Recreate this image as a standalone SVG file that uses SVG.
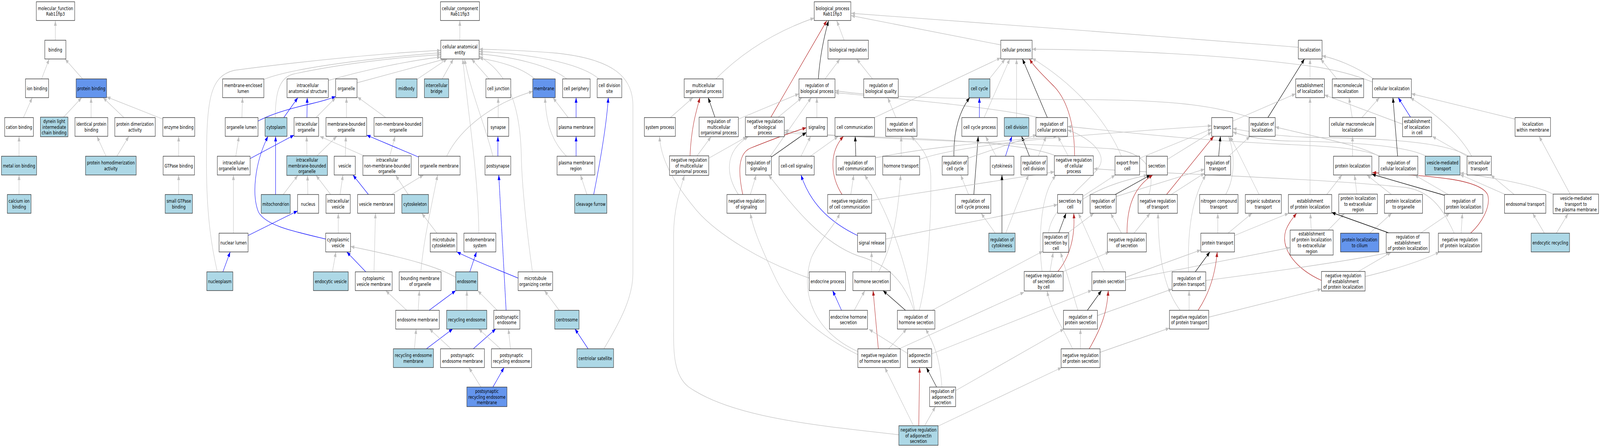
<svg xmlns="http://www.w3.org/2000/svg" width="5463" height="1147" viewBox="0 0 5463 1147" preserveAspectRatio="none" style="width:100vw;height:100vh;display:block">
<style>
rect.w{fill:#fff;stroke:#2a2a2a;stroke-width:1.3}
rect.lb{fill:#add8e6;stroke:#2a2a2a;stroke-width:1.3}
rect.bl{fill:#6495ed;stroke:#2a2a2a;stroke-width:1.3}
text{font-family:"DejaVu Sans","Liberation Sans",sans-serif;font-size:12.6px;text-anchor:middle;fill:#000}
#edges path{fill:none;stroke-width:1.3}
#edges .g{stroke:#c0c0c0;marker-end:url(#ag)}
#edges .b{stroke:#0000ff;marker-end:url(#ab)}
#edges .k{stroke:#000;marker-end:url(#ak)}
#edges .r{stroke:#b22222;marker-end:url(#ar)}
</style>
<defs>
<marker id="ag" viewBox="0 0 13 9.5" refX="13" refY="4.75" markerWidth="13" markerHeight="9.5" markerUnits="userSpaceOnUse" orient="auto"><path d="M0,0 L13,4.75 L0,9.5 z" fill="#c0c0c0"/></marker>
<marker id="ab" viewBox="0 0 13 9.5" refX="13" refY="4.75" markerWidth="13" markerHeight="9.5" markerUnits="userSpaceOnUse" orient="auto"><path d="M0,0 L13,4.75 L0,9.5 z" fill="#0000ff"/></marker>
<marker id="ak" viewBox="0 0 13 9.5" refX="13" refY="4.75" markerWidth="13" markerHeight="9.5" markerUnits="userSpaceOnUse" orient="auto"><path d="M0,0 L13,4.75 L0,9.5 z" fill="#000"/></marker>
<marker id="ar" viewBox="0 0 13 9.5" refX="13" refY="4.75" markerWidth="13" markerHeight="9.5" markerUnits="userSpaceOnUse" orient="auto"><path d="M0,0 L13,4.75 L0,9.5 z" fill="#b22222"/></marker>
</defs>
<rect x="0" y="0" width="5463" height="1147" fill="#fff"/>
<g id="edges">
<path class="g" d="M189,103 L189,53"/>
<path class="g" d="M142,202 L168,151"/>
<path class="g" d="M282,202 L222,151"/>
<path class="g" d="M80,301 L110,250"/>
<path class="g" d="M217,300 L279,250"/>
<path class="g" d="M311,301 L311,250"/>
<path class="g" d="M423,301 L352,250"/>
<path class="g" d="M556,305 L364,248"/>
<path class="g" d="M65,400 L65,349"/>
<path class="g" d="M362,400 L331,349"/>
<path class="g" d="M399,400 L440,349"/>
<path class="g" d="M610,400 L610,349"/>
<path class="g" d="M65,498 L65,448"/>
<path class="g" d="M610,498 L610,448"/>
<path class="g" d="M1570,103 L1570,53"/>
<path class="g" d="M898,204 C1000,172 1300,147 1505,135"/>
<path class="g" d="M742,696 C725,640 705,560 705,420 C705,250 718,195 800,180 C1000,160 1300,136 1505,129"/>
<path class="g" d="M940,301 C940,245 950,200 1000,190 C1150,165 1350,147 1505,140"/>
<path class="g" d="M1121,206 C1250,178 1400,155 1505,146"/>
<path class="g" d="M1219,212 L1520,151"/>
<path class="g" d="M1424,203 L1527,151"/>
<path class="g" d="M1510,202 L1548,151"/>
<path class="g" d="M1670,202 L1610,151"/>
<path class="g" d="M1635,597 C1633,450 1600,300 1580,151"/>
<path class="g" d="M1683,400 C1660,330 1605,230 1586,151"/>
<path class="g" d="M1818,696 C1800,600 1782,480 1780,400 C1776,250 1720,180 1636,144"/>
<path class="g" d="M1826,202 C1780,172 1700,156 1636,149"/>
<path class="g" d="M1935,202 C1880,168 1750,145 1636,138"/>
<path class="g" d="M2045,202 C1980,160 1800,137 1636,132"/>
<path class="g" d="M2062,893 C2120,820 2161,760 2161,700 L2161,270 C2161,200 2100,152 1900,136 C1800,130 1700,127 1636,126"/>
<path class="g" d="M1525,400 C1570,330 1680,265 1819,234"/>
<path class="b" d="M969,301 L1017,250"/>
<path class="b" d="M1048,301 L1049,250"/>
<path class="b" d="M881,310 C930,290 1000,276 1060,266 C1100,259 1130,252 1146,247"/>
<path class="g" d="M1079,301 L1146,250"/>
<path class="g" d="M1183,301 L1183,250"/>
<path class="g" d="M1317,301 L1220,248"/>
<path class="b" d="M854,406 L1004,346"/>
<path class="b" d="M1112,612 C1000,592 905,577 882,542 C860,500 868,420 915,349"/>
<path class="b" d="M941,498 L941,349"/>
<path class="b" d="M847,603 L1016,540"/>
<path class="g" d="M1048,399 L1047,349"/>
<path class="g" d="M1082,399 L1150,349"/>
<path class="g" d="M1179,400 L1181,349"/>
<path class="g" d="M1243,399 L1092,349"/>
<path class="g" d="M1331,399 L1349,349"/>
<path class="b" d="M1429,402 L1252,346"/>
<path class="g" d="M1701,301 L1701,250"/>
<path class="b" d="M1700,400 L1700,349"/>
<path class="g" d="M967,498 L1017,449"/>
<path class="g" d="M1051,498 L1050,449"/>
<path class="g" d="M1129,498 L1079,449"/>
<path class="g" d="M1161,498 L1171,448"/>
<path class="b" d="M1258,498 L1205,448"/>
<path class="g" d="M1337,498 L1446,448"/>
<path class="g" d="M1394,498 L1351,449"/>
<path class="g" d="M1437,696 C1445,620 1470,540 1494,448"/>
<path class="g" d="M1492,597 L1440,546"/>
<path class="g" d="M1155,597 L1155,546"/>
<path class="g" d="M1277,696 L1282,546"/>
<path class="b" d="M1728,794 L1703,448"/>
<path class="g" d="M1135,696 L1147,645"/>
<path class="b" d="M1249,696 L1184,645"/>
<path class="g" d="M1556,710 C1500,685 1400,662 1197,631"/>
<path class="b" d="M1604,696 L1627,645"/>
<path class="b" d="M1769,712 C1700,690 1620,668 1560,645"/>
<path class="g" d="M1388,794 L1317,744"/>
<path class="g" d="M1428,794 L1432,744"/>
<path class="b" d="M1466,794 L1556,744"/>
<path class="g" d="M1594,794 L1594,744"/>
<path class="g" d="M1697,794 L1631,744"/>
<path class="g" d="M1415,893 L1421,842"/>
<path class="b" d="M1456,893 L1546,842"/>
<path class="g" d="M1540,893 L1466,842"/>
<path class="b" d="M1616,893 L1693,842"/>
<path class="g" d="M1709,893 L1634,842"/>
<path class="g" d="M1743,893 L1736,842"/>
<path class="g" d="M1642,991 L1601,941"/>
<path class="b" d="M1683,991 L1721,941"/>
<path class="g" d="M1940,301 L1888,250"/>
<path class="b" d="M1967,301 L1967,250"/>
<path class="g" d="M1934,400 C1895,370 1865,330 1861,250"/>
<path class="b" d="M1967,400 L1967,349"/>
<path class="g" d="M2004,498 L1982,448"/>
<path class="b" d="M2027,498 C2045,430 2070,330 2077,250"/>
<path class="g" d="M1909,794 L1859,744"/>
<path class="b" d="M2008,893 L1963,842"/>
<path class="b" d="M761,696 L786,645"/>
<path class="g" d="M797,597 L797,448"/>
<path class="g" d="M805,400 L816,349"/>
<path class="g" d="M826,301 L828,250"/>
<path class="g" d="M2882,103 L2857,53"/>
<path class="k" d="M2794,202 C2800,140 2815,90 2829,53"/>
<path class="r" d="M2632,300 L2823,53"/>
<path class="g" d="M2444,202 C2540,130 2650,80 2780,46"/>
<path class="g" d="M3417,115 L2906,40"/>
<path class="g" d="M4433,121 C4000,95 3300,55 2906,34"/>
<path class="g" d="M2817,202 L2868,151"/>
<path class="g" d="M2979,202 L2925,151"/>
<path class="g" d="M3378,202 L3432,151"/>
<path class="g" d="M2986,301 L3417,148"/>
<path class="g" d="M3360,301 L3448,151"/>
<path class="g" d="M3471,301 L3471,151"/>
<path class="k" d="M3576,301 L3491,151"/>
<path class="r" d="M3669,399 C3669,330 3650,262 3600,222 C3560,192 3530,170 3515,151"/>
<path class="g" d="M3829,400 C3790,330 3700,230 3524,149"/>
<path class="g" d="M4686,210 C4620,190 4560,180 4500,172 C4200,140 3800,127 3524,126"/>
<path class="g" d="M4565,202 L4509,151"/>
<path class="g" d="M4690,202 C4630,170 4560,150 4514,143"/>
<path class="g" d="M4473,202 L4473,151"/>
<path class="k" d="M4329,301 L4454,151"/>
<path class="k" d="M2441,300 L2418,250"/>
<path class="g" d="M2289,301 L2366,250"/>
<path class="r" d="M2356,399 C2360,330 2375,290 2390,250"/>
<path class="g" d="M2521,305 L2728,240"/>
<path class="g" d="M2657,300 L2738,250"/>
<path class="g" d="M2630,400 L2770,250"/>
<path class="g" d="M2789,301 L2789,250"/>
<path class="g" d="M3545,301 C3400,275 3100,255 2851,237"/>
<path class="g" d="M4268,301 C4150,270 4000,256 3700,255 C3300,254 3000,250 2851,232"/>
<path class="g" d="M3605,399 C3500,366 3200,356 3000,351 C2850,348 2750,341 2678,334"/>
<path class="g" d="M3923,498 C3945,440 3920,392 3800,381 C3500,367 3000,356 2678,340"/>
<path class="g" d="M2380,399 L2428,350"/>
<path class="g" d="M2420,405 L2550,350"/>
<path class="g" d="M2521,498 C2480,450 2470,390 2555,350"/>
<path class="g" d="M2562,498 L2582,448"/>
<path class="r" d="M2536,498 C2520,440 2520,395 2560,380 C2640,356 2700,339 2753,327"/>
<path class="k" d="M2634,402 L2753,339"/>
<path class="g" d="M2735,400 L2768,349"/>
<path class="g" d="M2767,400 L2862,349"/>
<path class="r" d="M2875,498 C2835,450 2830,390 2880,349"/>
<path class="k" d="M2922,400 L2920,349"/>
<path class="g" d="M3059,301 L3031,250"/>
<path class="g" d="M3077,400 L3077,349"/>
<path class="g" d="M3139,794 C3170,700 3180,560 3178,450 C3176,400 3140,372 3111,349"/>
<path class="k" d="M3257,400 C3255,330 3280,280 3311,250"/>
<path class="b" d="M3344,301 L3344,250"/>
<path class="k" d="M3325,498 L3340,349"/>
<path class="g" d="M3401,400 L3365,349"/>
<path class="b" d="M3433,400 L3455,349"/>
<path class="k" d="M3515,400 L3488,349"/>
<path class="g" d="M3545,400 L3572,349"/>
<path class="g" d="M3305,405 L3540,345"/>
<path class="g" d="M2989,404 C3200,372 3450,360 3610,349"/>
<path class="g" d="M3647,399 L3612,349"/>
<path class="g" d="M4712,400 C4650,380 4550,375 4400,370 C4000,356 3750,330 3645,324"/>
<path class="g" d="M4712,402 C4650,372 4500,352 4354,325"/>
<path class="g" d="M3580,596 C3590,530 3700,480 3750,430 C3790,390 3700,345 3645,333"/>
<path class="g" d="M3140,408 C3300,366 3700,345 4137,322"/>
<path class="g" d="M3891,405 L4137,330"/>
<path class="g" d="M3986,408 L4137,338"/>
<path class="r" d="M3983,498 L4144,349"/>
<path class="k" d="M4161,400 L4167,349"/>
<path class="g" d="M4185,498 C4220,450 4215,390 4195,349"/>
<path class="g" d="M4299,498 L4200,349"/>
<path class="g" d="M4870,400 C4800,372 4600,363 4400,361 C4300,359 4240,346 4209,338"/>
<path class="g" d="M5015,400 C4950,370 4800,355 4500,352 C4350,350 4260,336 4209,329"/>
<path class="g" d="M4209,310 L4424,240"/>
<path class="g" d="M4195,400 L4268,349"/>
<path class="g" d="M4789,318 L4522,243"/>
<path class="g" d="M4473,498 L4473,250"/>
<path class="g" d="M4530,498 L4582,448"/>
<path class="g" d="M4215,603 L4400,546"/>
<path class="r" d="M4512,718 C4430,690 4370,640 4390,590 C4400,570 4415,558 4427,546"/>
<path class="g" d="M4477,589 L4474,546"/>
<path class="g" d="M4617,301 L4606,250"/>
<path class="g" d="M4650,301 L4710,250"/>
<path class="k" d="M4772,400 L4756,250"/>
<path class="b" d="M4816,300 L4774,250"/>
<path class="g" d="M5025,400 C4980,340 4900,290 4815,250"/>
<path class="g" d="M5173,305 L4819,240"/>
<path class="g" d="M4618,400 L4618,349"/>
<path class="g" d="M5009,400 L4890,349"/>
<path class="g" d="M5361,497 L5255,349"/>
<path class="g" d="M4633,497 L4625,448"/>
<path class="g" d="M4751,498 L4667,448"/>
<path class="k" d="M4932,500 L4684,446"/>
<path class="r" d="M5021,597 C5060,570 5090,530 5080,500 C5060,460 4900,450 4686,442"/>
<path class="g" d="M4945,498 L4830,448"/>
<path class="g" d="M5140,498 L4985,447"/>
<path class="g" d="M5305,498 C5250,475 5100,455 4985,443"/>
<path class="g" d="M5170,498 L5090,448"/>
<path class="g" d="M3811,503 L4113,433"/>
<path class="k" d="M3808,498 L3928,448"/>
<path class="g" d="M3999,498 L4113,443"/>
<path class="g" d="M4058,696 C4055,620 4060,520 4117,448"/>
<path class="g" d="M3697,503 L3808,448"/>
<path class="g" d="M3697,510 C3780,470 3880,455 3918,448"/>
<path class="g" d="M4158,597 L4158,546"/>
<path class="g" d="M4193,597 L4275,546"/>
<path class="g" d="M4535,589 L4590,547"/>
<path class="g" d="M4677,597 L4752,546"/>
<path class="k" d="M4741,596 L4547,544"/>
<path class="g" d="M4852,596 L4950,546"/>
<path class="g" d="M4989,597 L4993,546"/>
<path class="g" d="M4965,597 C4930,540 4890,490 4800,480 C4500,456 4000,446 3734,432"/>
<path class="g" d="M5273,597 L5233,546"/>
<path class="g" d="M5314,597 L5354,547"/>
<path class="g" d="M4117,718 C4300,700 4600,670 4745,646"/>
<path class="g" d="M4638,695 L4750,646"/>
<path class="g" d="M4661,708 C4760,690 4850,670 4915,645"/>
<path class="g" d="M4127,812 L4512,740"/>
<path class="g" d="M3843,710 L4100,640"/>
<path class="g" d="M3843,717 L4405,634"/>
<path class="k" d="M4081,696 L4131,645"/>
<path class="r" d="M4091,794 C4130,750 4150,700 4156,645"/>
<path class="g" d="M4060,794 L4060,744"/>
<path class="g" d="M3872,597 L3927,546"/>
<path class="g" d="M4029,794 C3975,740 3955,660 3954,546"/>
<path class="r" d="M3848,597 C3848,530 3870,480 3936,448"/>
<path class="g" d="M3829,597 L3792,546"/>
<path class="k" d="M3615,596 L3640,546"/>
<path class="r" d="M3612,695 C3650,660 3672,610 3666,546"/>
<path class="g" d="M3771,696 L3682,546"/>
<path class="g" d="M3024,612 L3611,524"/>
<path class="g" d="M3645,597 L3735,546"/>
<path class="g" d="M3585,695 L3596,646"/>
<path class="g" d="M3625,697 L3788,645"/>
<path class="g" d="M3558,695 C3545,620 3550,500 3605,449"/>
<path class="g" d="M2976,513 L3600,440"/>
<path class="g" d="M3680,794 L3621,646"/>
<path class="k" d="M3713,794 L3761,744"/>
<path class="g" d="M3747,808 L4002,740"/>
<path class="g" d="M3689,893 L3689,842"/>
<path class="r" d="M3719,893 C3760,840 3780,800 3784,744"/>
<path class="g" d="M3756,902 L3993,840"/>
<path class="g" d="M3662,893 C3630,840 3590,800 3575,745"/>
<path class="g" d="M3263,1000 L3633,842"/>
<path class="g" d="M3203,1091 L3625,941"/>
<path class="g" d="M3181,906 L3728,743"/>
<path class="g" d="M2976,696 L2976,645"/>
<path class="g" d="M3000,696 C3040,640 3065,570 3075,448"/>
<path class="b" d="M2928,603 C2850,575 2770,530 2735,448"/>
<path class="g" d="M2763,712 C2600,670 2450,600 2380,540 C2290,460 2255,400 2252,349"/>
<path class="g" d="M3069,1113 C2800,1090 2500,1070 2350,990 C2300,960 2300,900 2300,850 L2300,600 C2300,540 2320,490 2337,449"/>
<path class="b" d="M2873,794 L2843,744"/>
<path class="g" d="M2917,794 L2953,744"/>
<path class="k" d="M3091,794 L3015,744"/>
<path class="g" d="M3120,794 C3080,700 3000,670 2930,655 C2800,620 2700,520 2624,448"/>
<path class="g" d="M3123,794 C3100,700 3050,560 2952,448"/>
<path class="g" d="M3184,794 L3561,643"/>
<path class="r" d="M2999,893 L2981,744"/>
<path class="g" d="M3034,893 L3096,842"/>
<path class="g" d="M3070,893 L3497,748"/>
<path class="g" d="M2929,908 C2800,860 2700,800 2640,700 C2590,620 2570,580 2562,546"/>
<path class="g" d="M2929,900 C2780,850 2730,750 2770,660 C2800,610 2850,580 2867,546"/>
<path class="g" d="M3099,905 L2967,843"/>
<path class="k" d="M3198,991 L3163,941"/>
<path class="g" d="M3216,991 C3210,920 3190,880 3160,842"/>
<path class="g" d="M3119,1090 L3021,941"/>
<path class="r" d="M3137,1090 L3140,941"/>
<path class="g" d="M3157,1090 L3194,1041"/>
<path class="k" d="M3421,597 L3421,448"/>
<path class="g" d="M3398,597 L3350,546"/>
<path class="g" d="M3434,597 L3512,448"/>
<path class="g" d="M3307,498 L3280,448"/>
<path class="g" d="M2905,498 L2915,448"/>
</g>
<g id="n_mf"><rect class="w" x="124" y="4.5" width="131" height="48"/><text x="189.5" y="25.7">molecular_function</text><text x="189.5" y="40.5">Rab11fip3</text></g>
<g id="n_bind"><rect class="w" x="153" y="103" width="72" height="48"/><text x="189" y="131.6">binding</text></g>
<g id="n_ionb"><rect class="w" x="87" y="202" width="79" height="48"/><text x="126.5" y="230.6">ion binding</text></g>
<g id="n_protb"><rect class="bl" x="260" y="202" width="104" height="48"/><text x="312" y="230.6">protein binding</text></g>
<g id="n_catb"><rect class="w" x="16" y="301" width="98" height="48"/><text x="65" y="329.6">cation binding</text></g>
<g id="n_dyn"><rect class="lb" x="138" y="300" width="94" height="50"/><text x="185" y="314.8">dynein light</text><text x="185" y="329.6">intermediate</text><text x="185" y="344.4">chain binding</text></g>
<g id="n_ident"><rect class="w" x="256" y="301" width="112" height="48"/><text x="312" y="322.2">identical protein</text><text x="312" y="337">binding</text></g>
<g id="n_dimer"><rect class="w" x="392" y="301" width="138" height="48"/><text x="461" y="322.2">protein dimerization</text><text x="461" y="337">activity</text></g>
<g id="n_enz"><rect class="w" x="556" y="301" width="109" height="48"/><text x="610.5" y="329.6">enzyme binding</text></g>
<g id="n_metal"><rect class="lb" x="5" y="400" width="120" height="48"/><text x="65" y="428.6">metal ion binding</text></g>
<g id="n_homod"><rect class="lb" x="292" y="400" width="173" height="48"/><text x="378.5" y="421.2">protein homodimerization</text><text x="378.5" y="436">activity</text></g>
<g id="n_gtpb"><rect class="w" x="557" y="400" width="107" height="48"/><text x="610.5" y="428.6">GTPase binding</text></g>
<g id="n_calc"><rect class="lb" x="25" y="498" width="81" height="48"/><text x="65.5" y="519.2">calcium ion</text><text x="65.5" y="534">binding</text></g>
<g id="n_sgtp"><rect class="lb" x="564" y="498" width="93" height="48"/><text x="610.5" y="519.2">small GTPase</text><text x="610.5" y="534">binding</text></g>
<g id="n_cc"><rect class="w" x="1504" y="4.5" width="133" height="48"/><text x="1570.5" y="25.7">cellular_component</text><text x="1570.5" y="40.5">Rab11fip3</text></g>
<g id="n_cae"><rect class="w" x="1505" y="103" width="131" height="48"/><text x="1570.5" y="124.2">cellular anatomical</text><text x="1570.5" y="139">entity</text></g>
<g id="n_mel"><rect class="w" x="760" y="202" width="141" height="48"/><text x="830.5" y="223.2">membrane-enclosed</text><text x="830.5" y="238">lumen</text></g>
<g id="n_ias"><rect class="w" x="980" y="202" width="141" height="48"/><text x="1050.5" y="223.2">intracellular</text><text x="1050.5" y="238">anatomical structure</text></g>
<g id="n_org"><rect class="w" x="1146" y="202" width="73" height="48"/><text x="1182.5" y="230.6">organelle</text></g>
<g id="n_midb"><rect class="lb" x="1352" y="202" width="72" height="48"/><text x="1388" y="230.6">midbody</text></g>
<g id="n_icb"><rect class="lb" x="1449" y="202" width="83" height="48"/><text x="1490.5" y="223.2">intercellular</text><text x="1490.5" y="238">bridge</text></g>
<g id="n_cj"><rect class="w" x="1659" y="202" width="85" height="48"/><text x="1701.5" y="230.6">cell junction</text></g>
<g id="n_mem"><rect class="bl" x="1819" y="202" width="77" height="48"/><text x="1857.5" y="230.6">membrane</text></g>
<g id="n_cper"><rect class="w" x="1921" y="202" width="94" height="48"/><text x="1968" y="230.6">cell periphery</text></g>
<g id="n_cds"><rect class="w" x="2039" y="202" width="84" height="48"/><text x="2081" y="223.2">cell division</text><text x="2081" y="238">site</text></g>
<g id="n_orglum"><rect class="w" x="769" y="301" width="112" height="48"/><text x="825" y="329.6">organelle lumen</text></g>
<g id="n_cyto"><rect class="lb" x="905" y="301" width="75" height="48"/><text x="942.5" y="329.6">cytoplasm</text></g>
<g id="n_io"><rect class="w" x="1004" y="301" width="84" height="48"/><text x="1046" y="322.2">intracellular</text><text x="1046" y="337">organelle</text></g>
<g id="n_mbo"><rect class="w" x="1113" y="301" width="139" height="48"/><text x="1182.5" y="322.2">membrane-bounded</text><text x="1182.5" y="337">organelle</text></g>
<g id="n_nmbo"><rect class="w" x="1277" y="301" width="166" height="48"/><text x="1360" y="322.2">non-membrane-bounded</text><text x="1360" y="337">organelle</text></g>
<g id="n_syn"><rect class="w" x="1665" y="301" width="72" height="48"/><text x="1701" y="329.6">synapse</text></g>
<g id="n_pm"><rect class="w" x="1902" y="301" width="129" height="48"/><text x="1966.5" y="329.6">plasma membrane</text></g>
<g id="n_iol"><rect class="w" x="742" y="400" width="112" height="48"/><text x="798" y="421.2">intracellular</text><text x="798" y="436">organelle lumen</text></g>
<g id="n_imbo"><rect class="lb" x="979" y="399" width="139" height="50"/><text x="1048.5" y="413.8">intracellular</text><text x="1048.5" y="428.6">membrane-bounded</text><text x="1048.5" y="443.4">organelle</text></g>
<g id="n_ves"><rect class="w" x="1141" y="400" width="72" height="48"/><text x="1177" y="428.6">vesicle</text></g>
<g id="n_inmbo"><rect class="w" x="1239" y="399" width="165" height="50"/><text x="1321.5" y="413.8">intracellular</text><text x="1321.5" y="428.6">non-membrane-bounded</text><text x="1321.5" y="443.4">organelle</text></g>
<g id="n_orgm"><rect class="w" x="1429" y="400" width="142" height="48"/><text x="1500" y="428.6">organelle membrane</text></g>
<g id="n_psyn"><rect class="w" x="1656" y="400" width="88" height="48"/><text x="1700" y="428.6">postsynapse</text></g>
<g id="n_pmr"><rect class="w" x="1902" y="400" width="129" height="48"/><text x="1966.5" y="421.2">plasma membrane</text><text x="1966.5" y="436">region</text></g>
<g id="n_mito"><rect class="lb" x="892" y="498" width="99" height="48"/><text x="941.5" y="526.6">mitochondrion</text></g>
<g id="n_nuc"><rect class="w" x="1016" y="498" width="72" height="48"/><text x="1052" y="526.6">nucleus</text></g>
<g id="n_iv"><rect class="w" x="1113" y="498" width="83" height="48"/><text x="1154.5" y="519.2">intracellular</text><text x="1154.5" y="534">vesicle</text></g>
<g id="n_vm"><rect class="w" x="1221" y="498" width="126" height="48"/><text x="1284" y="526.6">vesicle membrane</text></g>
<g id="n_csk"><rect class="lb" x="1372" y="498" width="91" height="48"/><text x="1417.5" y="526.6">cytoskeleton</text></g>
<g id="n_cf"><rect class="lb" x="1962" y="498" width="110" height="48"/><text x="2017" y="526.6">cleavage furrow</text></g>
<g id="n_nl"><rect class="w" x="748" y="597" width="99" height="48"/><text x="797.5" y="625.6">nuclear lumen</text></g>
<g id="n_cv"><rect class="w" x="1112" y="597" width="85" height="48"/><text x="1154.5" y="618.2">cytoplasmic</text><text x="1154.5" y="633">vesicle</text></g>
<g id="n_mtc"><rect class="w" x="1469" y="597" width="91" height="48"/><text x="1514.5" y="618.2">microtubule</text><text x="1514.5" y="633">cytoskeleton</text></g>
<g id="n_ems"><rect class="w" x="1584" y="597" width="109" height="48"/><text x="1638.5" y="618.2">endomembrane</text><text x="1638.5" y="633">system</text></g>
<g id="n_np"><rect class="lb" x="706" y="696" width="89" height="48"/><text x="750.5" y="724.6">nucleoplasm</text></g>
<g id="n_ev"><rect class="lb" x="1070" y="696" width="119" height="48"/><text x="1129.5" y="724.6">endocytic vesicle</text></g>
<g id="n_cvm"><rect class="w" x="1213" y="696" width="126" height="48"/><text x="1276" y="717.2">cytoplasmic</text><text x="1276" y="732">vesicle membrane</text></g>
<g id="n_bmo"><rect class="w" x="1363" y="696" width="143" height="48"/><text x="1434.5" y="717.2">bounding membrane</text><text x="1434.5" y="732">of organelle</text></g>
<g id="n_endo"><rect class="lb" x="1556" y="696" width="75" height="48"/><text x="1593.5" y="724.6">endosome</text></g>
<g id="n_mtoc"><rect class="w" x="1769" y="696" width="118" height="48"/><text x="1828" y="717.2">microtubule</text><text x="1828" y="732">organizing center</text></g>
<g id="n_em"><rect class="w" x="1351" y="794.5" width="149" height="48"/><text x="1425.5" y="823.1">endosome membrane</text></g>
<g id="n_re"><rect class="lb" x="1525" y="794.5" width="137" height="48"/><text x="1593.5" y="823.1">recycling endosome</text></g>
<g id="n_pe"><rect class="w" x="1686" y="794.5" width="89" height="48"/><text x="1730.5" y="815.7">postsynaptic</text><text x="1730.5" y="830.5">endosome</text></g>
<g id="n_cent"><rect class="lb" x="1894" y="794.5" width="83" height="48"/><text x="1935.5" y="823.1">centrosome</text></g>
<g id="n_rem"><rect class="lb" x="1343" y="893" width="137" height="48"/><text x="1411.5" y="914.2">recycling endosome</text><text x="1411.5" y="929">membrane</text></g>
<g id="n_pem"><rect class="w" x="1504" y="893" width="150" height="48"/><text x="1579" y="914.2">postsynaptic</text><text x="1579" y="929">endosome membrane</text></g>
<g id="n_pre"><rect class="w" x="1678" y="893" width="137" height="48"/><text x="1746.5" y="914.2">postsynaptic</text><text x="1746.5" y="929">recycling endosome</text></g>
<g id="n_csat"><rect class="lb" x="1970" y="893" width="125" height="48"/><text x="2032.5" y="921.6">centriolar satellite</text></g>
<g id="n_prem"><rect class="bl" x="1594" y="991" width="137" height="50"/><text x="1662.5" y="1005.8">postsynaptic</text><text x="1662.5" y="1020.6">recycling endosome</text><text x="1662.5" y="1035.4">membrane</text></g>
<g id="n_bp"><rect class="w" x="2780" y="4.5" width="125" height="48"/><text x="2842.5" y="25.7">biological_process</text><text x="2842.5" y="40.5">Rab11fip3</text></g>
<g id="n_breg"><rect class="w" x="2827" y="103" width="138" height="48"/><text x="2896" y="131.6">biological regulation</text></g>
<g id="n_cp"><rect class="w" x="3417" y="103" width="107" height="48"/><text x="3470.5" y="131.6">cellular process</text></g>
<g id="n_loc"><rect class="w" x="4433" y="103" width="81" height="48"/><text x="4473.5" y="131.6">localization</text></g>
<g id="n_mop"><rect class="w" x="2336" y="202" width="133" height="48"/><text x="2402.5" y="223.2">multicellular</text><text x="2402.5" y="238">organismal process</text></g>
<g id="n_rbp"><rect class="w" x="2728" y="202" width="123" height="48"/><text x="2789.5" y="223.2">regulation of</text><text x="2789.5" y="238">biological process</text></g>
<g id="n_rbq"><rect class="w" x="2949" y="202" width="118" height="48"/><text x="3008" y="223.2">regulation of</text><text x="3008" y="238">biological quality</text></g>
<g id="n_ccyc"><rect class="lb" x="3308" y="202" width="72" height="48"/><text x="3344" y="230.6">cell cycle</text></g>
<g id="n_el"><rect class="w" x="4424" y="202" width="98" height="48"/><text x="4473" y="223.2">establishment</text><text x="4473" y="238">of localization</text></g>
<g id="n_ml"><rect class="w" x="4549" y="202" width="107" height="48"/><text x="4602.5" y="223.2">macromolecule</text><text x="4602.5" y="238">localization</text></g>
<g id="n_cl"><rect class="w" x="4686" y="202" width="133" height="48"/><text x="4752.5" y="230.6">cellular localization</text></g>
<g id="n_sp"><rect class="w" x="2200" y="301" width="106" height="48"/><text x="2253" y="329.6">system process</text></g>
<g id="n_rmop"><rect class="w" x="2387" y="300" width="134" height="50"/><text x="2454" y="314.8">regulation of</text><text x="2454" y="329.6">multicellular</text><text x="2454" y="344.4">organismal process</text></g>
<g id="n_nrbp"><rect class="w" x="2545" y="300" width="133" height="50"/><text x="2611.5" y="314.8">negative regulation</text><text x="2611.5" y="329.6">of biological</text><text x="2611.5" y="344.4">process</text></g>
<g id="n_sig"><rect class="w" x="2753" y="301" width="72" height="48"/><text x="2789" y="329.6">signaling</text></g>
<g id="n_ccom"><rect class="w" x="2851" y="301" width="135" height="48"/><text x="2918.5" y="329.6">cell communication</text></g>
<g id="n_rhl"><rect class="w" x="3024" y="301" width="107" height="48"/><text x="3077.5" y="322.2">regulation of</text><text x="3077.5" y="337">hormone levels</text></g>
<g id="n_ccp"><rect class="w" x="3284" y="301" width="121" height="48"/><text x="3344.5" y="329.6">cell cycle process</text></g>
<g id="n_cdiv"><rect class="lb" x="3429" y="301" width="84" height="48"/><text x="3471" y="329.6">cell division</text></g>
<g id="n_rcp"><rect class="w" x="3537" y="301" width="108" height="48"/><text x="3591" y="322.2">regulation of</text><text x="3591" y="337">cellular process</text></g>
<g id="n_tr"><rect class="w" x="4137" y="301" width="72" height="48"/><text x="4173" y="329.6">transport</text></g>
<g id="n_rl"><rect class="w" x="4265" y="301" width="89" height="48"/><text x="4309.5" y="322.2">regulation of</text><text x="4309.5" y="337">localization</text></g>
<g id="n_cml"><rect class="w" x="4539" y="301" width="158" height="48"/><text x="4618" y="322.2">cellular macromolecule</text><text x="4618" y="337">localization</text></g>
<g id="n_elc"><rect class="w" x="4789" y="300" width="99" height="50"/><text x="4838.5" y="314.8">establishment</text><text x="4838.5" y="329.6">of localization</text><text x="4838.5" y="344.4">in cell</text></g>
<g id="n_lwm"><rect class="w" x="5173" y="301" width="121" height="48"/><text x="5233.5" y="322.2">localization</text><text x="5233.5" y="337">within membrane</text></g>
<g id="n_nrmop"><rect class="w" x="2286" y="399" width="134" height="50"/><text x="2353" y="413.8">negative regulation</text><text x="2353" y="428.6">of multicellular</text><text x="2353" y="443.4">organismal process</text></g>
<g id="n_rs"><rect class="w" x="2546" y="400" width="88" height="48"/><text x="2590" y="421.2">regulation of</text><text x="2590" y="436">signaling</text></g>
<g id="n_ccs"><rect class="w" x="2660" y="400" width="120" height="48"/><text x="2720" y="428.6">cell-cell signaling</text></g>
<g id="n_rcc"><rect class="w" x="2855" y="400" width="134" height="48"/><text x="2922" y="421.2">regulation of</text><text x="2922" y="436">cell communication</text></g>
<g id="n_ht"><rect class="w" x="3014" y="400" width="126" height="48"/><text x="3077" y="428.6">hormone transport</text></g>
<g id="n_rccy"><rect class="w" x="3217" y="400" width="88" height="48"/><text x="3261" y="421.2">regulation of</text><text x="3261" y="436">cell cycle</text></g>
<g id="n_ck"><rect class="w" x="3381" y="400" width="81" height="48"/><text x="3421.5" y="428.6">cytokinesis</text></g>
<g id="n_rcd"><rect class="w" x="3486" y="400" width="89" height="48"/><text x="3530.5" y="421.2">regulation of</text><text x="3530.5" y="436">cell division</text></g>
<g id="n_nrcp"><rect class="w" x="3600" y="399" width="133" height="50"/><text x="3666.5" y="413.8">negative regulation</text><text x="3666.5" y="428.6">of cellular</text><text x="3666.5" y="443.4">process</text></g>
<g id="n_efc"><rect class="w" x="3807" y="400" width="84" height="48"/><text x="3849" y="421.2">export from</text><text x="3849" y="436">cell</text></g>
<g id="n_sec"><rect class="w" x="3914" y="400" width="72" height="48"/><text x="3950" y="428.6">secretion</text></g>
<g id="n_rt"><rect class="w" x="4113" y="400" width="89" height="48"/><text x="4157.5" y="421.2">regulation of</text><text x="4157.5" y="436">transport</text></g>
<g id="n_pl"><rect class="w" x="4553" y="400" width="131" height="48"/><text x="4618.5" y="428.6">protein localization</text></g>
<g id="n_rcl"><rect class="w" x="4708" y="400" width="133" height="48"/><text x="4774.5" y="421.2">regulation of</text><text x="4774.5" y="436">cellular localization</text></g>
<g id="n_vmt"><rect class="lb" x="4866" y="400" width="119" height="48"/><text x="4925.5" y="421.2">vesicle-mediated</text><text x="4925.5" y="436">transport</text></g>
<g id="n_it"><rect class="w" x="5009" y="400" width="83" height="48"/><text x="5050.5" y="421.2">intracellular</text><text x="5050.5" y="436">transport</text></g>
<g id="n_nrs"><rect class="w" x="2482" y="498" width="133" height="48"/><text x="2548.5" y="519.2">negative regulation</text><text x="2548.5" y="534">of signaling</text></g>
<g id="n_nrcc"><rect class="w" x="2826" y="498" width="150" height="48"/><text x="2901" y="519.2">negative regulation</text><text x="2901" y="534">of cell communication</text></g>
<g id="n_rccp"><rect class="w" x="3262" y="498" width="121" height="48"/><text x="3322.5" y="519.2">regulation of</text><text x="3322.5" y="534">cell cycle process</text></g>
<g id="n_sbc"><rect class="w" x="3611" y="498" width="86" height="48"/><text x="3654" y="519.2">secretion by</text><text x="3654" y="534">cell</text></g>
<g id="n_rsec"><rect class="w" x="3722" y="498" width="89" height="48"/><text x="3766.5" y="519.2">regulation of</text><text x="3766.5" y="534">secretion</text></g>
<g id="n_nrt"><rect class="w" x="3886" y="498" width="134" height="48"/><text x="3953" y="519.2">negative regulation</text><text x="3953" y="534">of transport</text></g>
<g id="n_nct"><rect class="w" x="4096" y="498" width="131" height="48"/><text x="4161.5" y="519.2">nitrogen compound</text><text x="4161.5" y="534">transport</text></g>
<g id="n_ost"><rect class="w" x="4252" y="498" width="123" height="48"/><text x="4313.5" y="519.2">organic substance</text><text x="4313.5" y="534">transport</text></g>
<g id="n_epl"><rect class="w" x="4399" y="498" width="148" height="48"/><text x="4473" y="519.2">establishment</text><text x="4473" y="534">of protein localization</text></g>
<g id="n_pler"><rect class="w" x="4571" y="497" width="132" height="50"/><text x="4637" y="511.8">protein localization</text><text x="4637" y="526.6">to extracellular</text><text x="4637" y="541.4">region</text></g>
<g id="n_plo"><rect class="w" x="4727" y="498" width="130" height="48"/><text x="4792" y="519.2">protein localization</text><text x="4792" y="534">to organelle</text></g>
<g id="n_rpl"><rect class="w" x="4932" y="498" width="131" height="48"/><text x="4997.5" y="519.2">regulation of</text><text x="4997.5" y="534">protein localization</text></g>
<g id="n_et"><rect class="w" x="5137" y="498" width="141" height="48"/><text x="5207.5" y="526.6">endosomal transport</text></g>
<g id="n_vmtpm"><rect class="w" x="5303" y="497" width="155" height="50"/><text x="5380.5" y="511.8">vesicle-mediated</text><text x="5380.5" y="526.6">transport to</text><text x="5380.5" y="541.4">the plasma membrane</text></g>
<g id="n_sr"><rect class="w" x="2928" y="597" width="96" height="48"/><text x="2976" y="625.6">signal release</text></g>
<g id="n_rck"><rect class="lb" x="3376" y="597" width="90" height="48"/><text x="3421" y="618.2">regulation of</text><text x="3421" y="633">cytokinesis</text></g>
<g id="n_rsc"><rect class="w" x="3561" y="596" width="88" height="50"/><text x="3605" y="610.8">regulation of</text><text x="3605" y="625.6">secretion by</text><text x="3605" y="640.4">cell</text></g>
<g id="n_nrsec"><rect class="w" x="3781" y="597" width="133" height="48"/><text x="3847.5" y="618.2">negative regulation</text><text x="3847.5" y="633">of secretion</text></g>
<g id="n_pt"><rect class="w" x="4100" y="597" width="115" height="48"/><text x="4157.5" y="625.6">protein transport</text></g>
<g id="n_epler"><rect class="w" x="4405" y="589" width="147" height="64"/><text x="4478.5" y="603.4">establishment</text><text x="4478.5" y="618.2">of protein localization</text><text x="4478.5" y="633">to extracellular</text><text x="4478.5" y="647.8">region</text></g>
<g id="n_plc"><rect class="bl" x="4577" y="597" width="131" height="48"/><text x="4642.5" y="618.2">protein localization</text><text x="4642.5" y="633">to cilium</text></g>
<g id="n_repl"><rect class="w" x="4733" y="596" width="147" height="50"/><text x="4806.5" y="610.8">regulation of</text><text x="4806.5" y="625.6">establishment</text><text x="4806.5" y="640.4">of protein localization</text></g>
<g id="n_nrpl"><rect class="w" x="4911" y="597" width="148" height="48"/><text x="4985" y="618.2">negative regulation</text><text x="4985" y="633">of protein localization</text></g>
<g id="n_er"><rect class="lb" x="5228" y="597" width="131" height="48"/><text x="5293.5" y="625.6">endocytic recycling</text></g>
<g id="n_ep"><rect class="w" x="2763" y="696" width="124" height="48"/><text x="2825" y="724.6">endocrine process</text></g>
<g id="n_hs"><rect class="w" x="2912" y="696" width="128" height="48"/><text x="2976" y="724.6">hormone secretion</text></g>
<g id="n_nrsc"><rect class="w" x="3497" y="695" width="133" height="50"/><text x="3563.5" y="709.8">negative regulation</text><text x="3563.5" y="724.6">of secretion</text><text x="3563.5" y="739.4">by cell</text></g>
<g id="n_ps"><rect class="w" x="3728" y="696" width="115" height="48"/><text x="3785.5" y="724.6">protein secretion</text></g>
<g id="n_rpt"><rect class="w" x="4002" y="696" width="115" height="48"/><text x="4059.5" y="717.2">regulation of</text><text x="4059.5" y="732">protein transport</text></g>
<g id="n_nrepl"><rect class="w" x="4512" y="695" width="149" height="50"/><text x="4586.5" y="709.8">negative regulation</text><text x="4586.5" y="724.6">of establishment</text><text x="4586.5" y="739.4">of protein localization</text></g>
<g id="n_ehs"><rect class="w" x="2832" y="794.5" width="130" height="48"/><text x="2897" y="815.7">endocrine hormone</text><text x="2897" y="830.5">secretion</text></g>
<g id="n_rhs"><rect class="w" x="3064" y="794.5" width="128" height="48"/><text x="3128" y="815.7">regulation of</text><text x="3128" y="830.5">hormone secretion</text></g>
<g id="n_rps"><rect class="w" x="3631" y="794.5" width="116" height="48"/><text x="3689" y="815.7">regulation of</text><text x="3689" y="830.5">protein secretion</text></g>
<g id="n_nrpt"><rect class="w" x="3993" y="794.5" width="134" height="48"/><text x="4060" y="815.7">negative regulation</text><text x="4060" y="830.5">of protein transport</text></g>
<g id="n_nrhs"><rect class="w" x="2929" y="893" width="145" height="48"/><text x="3001.5" y="914.2">negative regulation</text><text x="3001.5" y="929">of hormone secretion</text></g>
<g id="n_as"><rect class="w" x="3099" y="893" width="82" height="48"/><text x="3140" y="914.2">adiponectin</text><text x="3140" y="929">secretion</text></g>
<g id="n_nrps"><rect class="w" x="3623" y="893" width="133" height="48"/><text x="3689.5" y="914.2">negative regulation</text><text x="3689.5" y="929">of protein secretion</text></g>
<g id="n_ras"><rect class="w" x="3174" y="991" width="89" height="50"/><text x="3218.5" y="1005.8">regulation of</text><text x="3218.5" y="1020.6">adiponectin</text><text x="3218.5" y="1035.4">secretion</text></g>
<g id="n_nras"><rect class="lb" x="3069" y="1090" width="134" height="50"/><text x="3136" y="1104.8">negative regulation</text><text x="3136" y="1119.6">of adiponectin</text><text x="3136" y="1134.4">secretion</text></g>
</svg>
